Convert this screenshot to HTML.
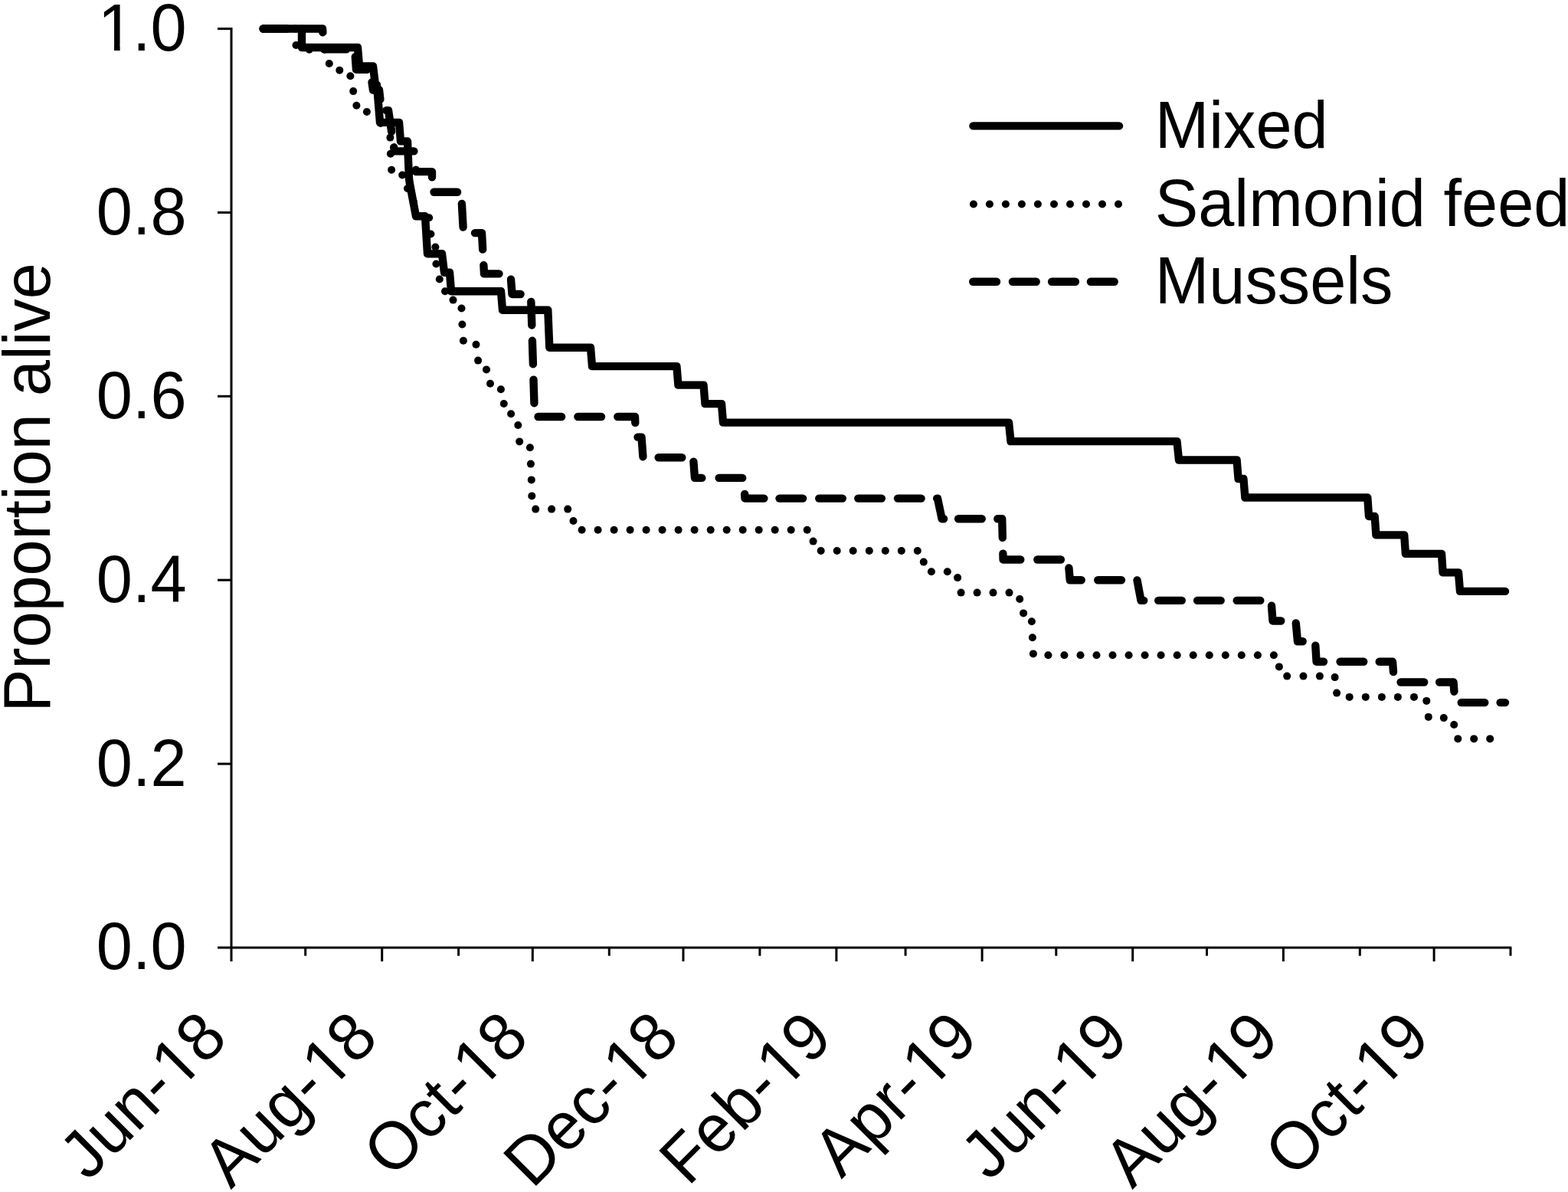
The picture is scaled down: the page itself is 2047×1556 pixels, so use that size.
<!DOCTYPE html>
<html><head><meta charset="utf-8"><title>Proportion alive</title>
<style>
html,body{margin:0;padding:0;background:#fff;overflow:hidden;}
svg{display:block;}
text{font-family:"Liberation Sans",Arial,sans-serif;fill:#000;}
</style></head><body>
<svg width="2047" height="1556" viewBox="0 0 2047 1556">
<rect width="2047" height="1556" fill="#fff"/>
<g stroke="#000" stroke-width="3.0" fill="none" stroke-linecap="butt">
<path d="M302.0 36.0 V1255.0"/>
<path d="M284.0 1237.0 H1973.3"/>
<path d="M284 37.5 H302.0"/>
<path d="M284 277.4 H302.0"/>
<path d="M284 517.3 H302.0"/>
<path d="M284 757.2 H302.0"/>
<path d="M284 997.1 H302.0"/>
<path d="M398.7 1237.0 V1247.7"/>
<path d="M498.7 1237.0 V1255.0"/>
<path d="M598.6 1237.0 V1247.7"/>
<path d="M695.3 1237.0 V1255.0"/>
<path d="M795.3 1237.0 V1247.7"/>
<path d="M892.0 1237.0 V1255.0"/>
<path d="M991.9 1237.0 V1247.7"/>
<path d="M1091.9 1237.0 V1255.0"/>
<path d="M1182.1 1237.0 V1247.7"/>
<path d="M1282.1 1237.0 V1255.0"/>
<path d="M1378.8 1237.0 V1247.7"/>
<path d="M1478.7 1237.0 V1255.0"/>
<path d="M1575.5 1237.0 V1247.7"/>
<path d="M1675.4 1237.0 V1255.0"/>
<path d="M1775.3 1237.0 V1247.7"/>
<path d="M1872.1 1237.0 V1255.0"/>
<path d="M1972.0 1237.0 V1247.7"/>
</g>
<g font-size="85.6" text-anchor="end">
<g transform="translate(243.6 65.9) scale(0.990 1.025)"><text><tspan>1</tspan><tspan dx="-2.0">.0</tspan></text><rect x="-111.78" y="-7.39" width="16.26" height="8.59" fill="#fff"/><rect x="-87.87" y="-7.39" width="15.59" height="8.59" fill="#fff"/></g>
<text transform="translate(243.6 305.8) scale(0.990 1.025)">0.8</text>
<text transform="translate(243.6 545.7) scale(0.990 1.025)">0.6</text>
<text transform="translate(243.6 785.6) scale(0.990 1.025)">0.4</text>
<text transform="translate(243.6 1025.5) scale(0.990 1.025)">0.2</text>
<text transform="translate(243.6 1265.4) scale(0.990 1.025)">0.0</text>
</g>
<text font-size="85.6" text-anchor="middle" transform="translate(64.8 636.5) rotate(-90) scale(0.986 1.010)">Proportion alive</text>
<g font-size="85.6" text-anchor="end">
<g transform="translate(300.0 1358.0) rotate(-45) scale(1.000 1.030)"><text>Jun-<tspan dx="2.0">1</tspan><tspan dx="-2.0">8</tspan></text><rect x="-87.98" y="-7.39" width="16.26" height="8.59" fill="#fff"/><rect x="-64.07" y="-7.39" width="15.59" height="8.59" fill="#fff"/></g>
<g transform="translate(496.7 1358.0) rotate(-45) scale(1.000 1.030)"><text>Aug-<tspan dx="2.0">1</tspan><tspan dx="-2.0">8</tspan></text><rect x="-87.98" y="-7.39" width="16.26" height="8.59" fill="#fff"/><rect x="-64.07" y="-7.39" width="15.59" height="8.59" fill="#fff"/></g>
<g transform="translate(693.3 1358.0) rotate(-45) scale(1.000 1.030)"><text>Oct-<tspan dx="2.0">1</tspan><tspan dx="-2.0">8</tspan></text><rect x="-87.98" y="-7.39" width="16.26" height="8.59" fill="#fff"/><rect x="-64.07" y="-7.39" width="15.59" height="8.59" fill="#fff"/></g>
<g transform="translate(890.0 1358.0) rotate(-45) scale(1.000 1.030)"><text>Dec-<tspan dx="2.0">1</tspan><tspan dx="-2.0">8</tspan></text><rect x="-87.98" y="-7.39" width="16.26" height="8.59" fill="#fff"/><rect x="-64.07" y="-7.39" width="15.59" height="8.59" fill="#fff"/></g>
<g transform="translate(1089.9 1358.0) rotate(-45) scale(1.000 1.030)"><text>Feb-<tspan dx="2.0">1</tspan><tspan dx="-2.0">9</tspan></text><rect x="-87.98" y="-7.39" width="16.26" height="8.59" fill="#fff"/><rect x="-64.07" y="-7.39" width="15.59" height="8.59" fill="#fff"/></g>
<g transform="translate(1280.1 1358.0) rotate(-45) scale(1.000 1.030)"><text>Apr-<tspan dx="2.0">1</tspan><tspan dx="-2.0">9</tspan></text><rect x="-87.98" y="-7.39" width="16.26" height="8.59" fill="#fff"/><rect x="-64.07" y="-7.39" width="15.59" height="8.59" fill="#fff"/></g>
<g transform="translate(1476.7 1358.0) rotate(-45) scale(1.000 1.030)"><text>Jun-<tspan dx="2.0">1</tspan><tspan dx="-2.0">9</tspan></text><rect x="-87.98" y="-7.39" width="16.26" height="8.59" fill="#fff"/><rect x="-64.07" y="-7.39" width="15.59" height="8.59" fill="#fff"/></g>
<g transform="translate(1673.4 1358.0) rotate(-45) scale(1.000 1.030)"><text>Aug-<tspan dx="2.0">1</tspan><tspan dx="-2.0">9</tspan></text><rect x="-87.98" y="-7.39" width="16.26" height="8.59" fill="#fff"/><rect x="-64.07" y="-7.39" width="15.59" height="8.59" fill="#fff"/></g>
<g transform="translate(1870.1 1358.0) rotate(-45) scale(1.000 1.030)"><text>Oct-<tspan dx="2.0">1</tspan><tspan dx="-2.0">9</tspan></text><rect x="-87.98" y="-7.39" width="16.26" height="8.59" fill="#fff"/><rect x="-64.07" y="-7.39" width="15.59" height="8.59" fill="#fff"/></g>
</g>
<g fill="none" stroke="#000" stroke-width="10.4" stroke-linecap="round" stroke-linejoin="round">
<path d="M343.5 37.5 L394.0 37.5 L394.0 62.0 L467.0 62.0 L469.0 86.5 L487.0 86.5 L490.0 110.9 L492.0 110.9 L494.0 135.4 L496.0 159.9 L521.0 159.9 L523.0 184.4 L532.0 184.4 L534.0 233.3 L535.0 240.0 L543.0 282.3 L555.0 282.3 L558.0 331.3 L577.0 331.3 L580.0 355.7 L587.0 355.7 L589.0 380.2 L654.0 380.2 L656.0 404.7 L715.3 404.7 L717.3 453.7 L771.0 453.7 L773.0 478.1 L883.4 478.1 L885.4 502.6 L918.5 502.6 L920.5 527.1 L942.0 527.1 L944.0 551.6 L1317.0 551.6 L1319.5 576.1 L1536.5 576.1 L1539.0 600.5 L1614.6 600.5 L1616.6 625.0 L1623.4 625.0 L1625.4 649.5 L1785.3 649.5 L1787.0 674.0 L1794.7 674.0 L1796.4 698.4 L1833.2 698.4 L1834.9 722.9 L1882.0 722.9 L1883.6 747.4 L1904.0 747.4 L1906.0 771.9 L1965.0 771.9"/>
<path d="M343.9 37.5 L374.5 37.5"/>
<path d="M395.1 37.5 L421.0 37.5 L421.4 42.2"/>
<path d="M422.9 62.9 L423.0 64.2 L452.3 64.2"/>
<path d="M463.8 74.2 L465.0 90.8 L479.0 90.8"/>
<path d="M485.5 107.4 L487.0 117.5 L495.0 117.5 L496.4 129.8"/>
<path d="M504.3 144.1 L507.0 144.1 L511.0 170.8 L511.1 171.8"/>
<path d="M514.2 192.3 L515.0 197.4 L540.4 197.4"/>
<path d="M543.0 221.7 L543.0 224.1 L564.0 224.1 L564.0 231.3"/>
<path d="M566.5 250.7 L597.1 250.7"/>
<path d="M602.9 266.0 L604.6 296.5"/>
<path d="M620.0 304.1 L629.0 304.1 L630.2 325.6"/>
<path d="M631.4 346.3 L632.0 357.4 L651.5 357.4"/>
<path d="M667.0 364.6 L668.5 384.0 L679.6 384.0"/>
<path d="M693.3 393.9 L694.3 424.5"/>
<path d="M694.9 444.7 L695.9 475.3"/>
<path d="M696.5 495.6 L697.4 526.2"/>
<path d="M702.5 544.0 L733.1 544.0"/>
<path d="M754.4 544.0 L785.0 544.0"/>
<path d="M806.3 544.0 L829.0 544.0 L829.3 551.9"/>
<path d="M832.5 570.6 L837.5 570.6 L839.4 596.2"/>
<path d="M859.7 597.3 L890.3 597.3"/>
<path d="M905.4 602.7 L907.0 623.9 L916.3 623.9"/>
<path d="M938.6 623.9 L969.2 623.9"/>
<path d="M972.2 644.9 L972.5 650.6 L997.4 650.6"/>
<path d="M1017.5 650.6 L1048.1 650.6"/>
<path d="M1069.2 650.6 L1099.8 650.6"/>
<path d="M1120.3 650.6 L1150.9 650.6"/>
<path d="M1172.0 650.6 L1202.6 650.6"/>
<path d="M1223.1 650.6 L1224.0 650.6 L1229.6 677.2 L1232.1 677.2"/>
<path d="M1251.1 677.2 L1281.7 677.2"/>
<path d="M1302.3 677.2 L1308.2 677.2 L1308.8 701.9"/>
<path d="M1309.4 722.6 L1309.6 730.5 L1332.3 730.5"/>
<path d="M1354.3 730.5 L1384.9 730.5"/>
<path d="M1395.4 741.5 L1396.8 757.2 L1411.7 757.2"/>
<path d="M1433.3 757.2 L1463.9 757.2"/>
<path d="M1484.5 757.4 L1489.5 783.9 L1493.2 783.9"/>
<path d="M1512.2 783.9 L1542.8 783.9"/>
<path d="M1563.1 783.9 L1593.7 783.9"/>
<path d="M1614.7 783.9 L1645.3 783.9"/>
<path d="M1660.0 790.8 L1661.5 810.5 L1672.3 810.5"/>
<path d="M1691.8 813.4 L1694.0 837.2 L1700.7 837.2"/>
<path d="M1717.3 842.7 L1718.6 863.8 L1728.0 863.8"/>
<path d="M1749.6 863.8 L1780.2 863.8"/>
<path d="M1800.7 863.8 L1818.0 863.8 L1819.0 877.1"/>
<path d="M1828.6 890.5 L1859.2 890.5"/>
<path d="M1879.2 890.5 L1897.5 890.5 L1898.4 902.7"/>
<path d="M1907.7 917.1 L1938.3 917.1"/>
<path d="M1958.6 917.1 L1965.0 917.1"/>
</g>
<g fill="#000">
<circle cx="343.5" cy="37.5" r="5.0"/>
<circle cx="364.5" cy="37.5" r="5.0"/>
<circle cx="385.5" cy="37.5" r="5.0"/>
<circle cx="386.5" cy="59.0" r="5.0"/>
<circle cx="403.8" cy="64.8" r="5.0"/>
<circle cx="423.7" cy="64.8" r="5.0"/>
<circle cx="429.8" cy="83.0" r="5.0"/>
<circle cx="443.3" cy="91.8" r="5.0"/>
<circle cx="457.4" cy="99.3" r="5.0"/>
<circle cx="461.2" cy="119.1" r="5.0"/>
<circle cx="465.4" cy="137.8" r="5.0"/>
<circle cx="478.9" cy="146.0" r="5.0"/>
<circle cx="497.0" cy="161.0" r="5.0"/>
<circle cx="509.4" cy="179.6" r="5.0"/>
<circle cx="509.9" cy="200.8" r="5.0"/>
<circle cx="511.1" cy="221.8" r="5.0"/>
<circle cx="525.2" cy="228.5" r="5.0"/>
<circle cx="532.0" cy="246.0" r="5.0"/>
<circle cx="540.0" cy="264.0" r="5.0"/>
<circle cx="560.2" cy="284.3" r="5.0"/>
<circle cx="562.4" cy="305.5" r="5.0"/>
<circle cx="568.4" cy="322.5" r="5.0"/>
<circle cx="569.4" cy="344.5" r="5.0"/>
<circle cx="573.8" cy="364.5" r="5.0"/>
<circle cx="581.0" cy="380.2" r="5.0"/>
<circle cx="591.5" cy="391.6" r="5.0"/>
<circle cx="602.5" cy="402.5" r="5.0"/>
<circle cx="603.4" cy="423.5" r="5.0"/>
<circle cx="604.9" cy="444.7" r="5.0"/>
<circle cx="621.5" cy="449.8" r="5.0"/>
<circle cx="624.1" cy="470.6" r="5.0"/>
<circle cx="635.0" cy="482.4" r="5.0"/>
<circle cx="640.0" cy="500.7" r="5.0"/>
<circle cx="653.9" cy="508.3" r="5.0"/>
<circle cx="657.8" cy="527.0" r="5.0"/>
<circle cx="667.1" cy="540.3" r="5.0"/>
<circle cx="676.3" cy="555.0" r="5.0"/>
<circle cx="678.2" cy="576.4" r="5.0"/>
<circle cx="691.9" cy="584.2" r="5.0"/>
<circle cx="692.9" cy="605.6" r="5.0"/>
<circle cx="693.8" cy="626.4" r="5.0"/>
<circle cx="694.3" cy="647.4" r="5.0"/>
<circle cx="699.2" cy="664.6" r="5.0"/>
<circle cx="720.1" cy="664.6" r="5.0"/>
<circle cx="741.2" cy="664.6" r="5.0"/>
<circle cx="748.5" cy="680.0" r="5.0"/>
<circle cx="759.6" cy="691.8" r="5.0"/>
<circle cx="780.6" cy="691.8" r="5.0"/>
<circle cx="801.6" cy="691.8" r="5.0"/>
<circle cx="822.6" cy="691.8" r="5.0"/>
<circle cx="843.6" cy="691.8" r="5.0"/>
<circle cx="864.6" cy="691.8" r="5.0"/>
<circle cx="885.6" cy="691.8" r="5.0"/>
<circle cx="906.6" cy="691.8" r="5.0"/>
<circle cx="927.7" cy="691.8" r="5.0"/>
<circle cx="948.7" cy="691.8" r="5.0"/>
<circle cx="969.7" cy="691.8" r="5.0"/>
<circle cx="990.7" cy="691.8" r="5.0"/>
<circle cx="1011.7" cy="691.8" r="5.0"/>
<circle cx="1032.7" cy="691.8" r="5.0"/>
<circle cx="1053.7" cy="691.8" r="5.0"/>
<circle cx="1061.6" cy="706.6" r="5.0"/>
<circle cx="1071.7" cy="719.0" r="5.0"/>
<circle cx="1092.7" cy="719.0" r="5.0"/>
<circle cx="1113.7" cy="719.0" r="5.0"/>
<circle cx="1134.8" cy="719.0" r="5.0"/>
<circle cx="1155.8" cy="719.0" r="5.0"/>
<circle cx="1176.8" cy="719.0" r="5.0"/>
<circle cx="1197.8" cy="719.0" r="5.0"/>
<circle cx="1205.8" cy="733.6" r="5.0"/>
<circle cx="1215.9" cy="746.3" r="5.0"/>
<circle cx="1236.8" cy="746.3" r="5.0"/>
<circle cx="1250.1" cy="754.1" r="5.0"/>
<circle cx="1254.6" cy="773.6" r="5.0"/>
<circle cx="1275.6" cy="773.6" r="5.0"/>
<circle cx="1296.5" cy="773.6" r="5.0"/>
<circle cx="1317.5" cy="773.6" r="5.0"/>
<circle cx="1331.2" cy="782.0" r="5.0"/>
<circle cx="1336.1" cy="800.4" r="5.0"/>
<circle cx="1346.9" cy="811.2" r="5.0"/>
<circle cx="1347.9" cy="832.3" r="5.0"/>
<circle cx="1348.9" cy="853.4" r="5.0"/>
<circle cx="1368.4" cy="855.3" r="5.0"/>
<circle cx="1389.4" cy="855.3" r="5.0"/>
<circle cx="1410.5" cy="855.3" r="5.0"/>
<circle cx="1431.5" cy="855.3" r="5.0"/>
<circle cx="1452.5" cy="855.3" r="5.0"/>
<circle cx="1473.6" cy="855.3" r="5.0"/>
<circle cx="1494.6" cy="855.3" r="5.0"/>
<circle cx="1515.6" cy="855.3" r="5.0"/>
<circle cx="1536.7" cy="855.3" r="5.0"/>
<circle cx="1557.7" cy="855.3" r="5.0"/>
<circle cx="1578.8" cy="855.3" r="5.0"/>
<circle cx="1599.8" cy="855.3" r="5.0"/>
<circle cx="1620.8" cy="855.3" r="5.0"/>
<circle cx="1641.9" cy="855.3" r="5.0"/>
<circle cx="1662.9" cy="855.3" r="5.0"/>
<circle cx="1669.9" cy="870.4" r="5.0"/>
<circle cx="1680.2" cy="882.6" r="5.0"/>
<circle cx="1701.5" cy="882.6" r="5.0"/>
<circle cx="1722.9" cy="882.6" r="5.0"/>
<circle cx="1742.6" cy="884.1" r="5.0"/>
<circle cx="1745.1" cy="904.6" r="5.0"/>
<circle cx="1761.7" cy="909.9" r="5.0"/>
<circle cx="1782.8" cy="909.9" r="5.0"/>
<circle cx="1803.9" cy="909.9" r="5.0"/>
<circle cx="1824.9" cy="909.9" r="5.0"/>
<circle cx="1846.0" cy="909.9" r="5.0"/>
<circle cx="1862.3" cy="914.9" r="5.0"/>
<circle cx="1864.8" cy="935.9" r="5.0"/>
<circle cx="1884.8" cy="937.1" r="5.0"/>
<circle cx="1898.2" cy="946.0" r="5.0"/>
<circle cx="1903.3" cy="964.4" r="5.0"/>
<circle cx="1924.2" cy="964.4" r="5.0"/>
<circle cx="1945.2" cy="964.4" r="5.0"/>
</g>
<g fill="none" stroke="#000" stroke-width="10.4" stroke-linecap="round">
<path d="M1270.4 164.4 H1461"/>
<path d="M1270.2 367.7 H1301.0"/>
<path d="M1321.9 367.7 H1352.7"/>
<path d="M1373.1 367.7 H1403.9"/>
<path d="M1423.9 367.7 H1454.7"/>
</g>
<g fill="#000">
<circle cx="1270.9" cy="266.5" r="5.0"/>
<circle cx="1291.9" cy="266.5" r="5.0"/>
<circle cx="1312.9" cy="266.5" r="5.0"/>
<circle cx="1333.9" cy="266.5" r="5.0"/>
<circle cx="1354.9" cy="266.5" r="5.0"/>
<circle cx="1376.0" cy="266.5" r="5.0"/>
<circle cx="1397.0" cy="266.5" r="5.0"/>
<circle cx="1418.0" cy="266.5" r="5.0"/>
<circle cx="1439.0" cy="266.5" r="5.0"/>
<circle cx="1460.0" cy="266.5" r="5.0"/>
</g>
<g font-size="85.6">
<text transform="translate(1507.7 193.3) scale(0.990 1.025)">Mixed</text>
<text transform="translate(1507.7 294.6) scale(0.990 1.025)">Salmonid feed</text>
<text transform="translate(1507.7 395.8) scale(0.990 1.025)">Mussels</text>
</g>
</svg>
</body></html>
